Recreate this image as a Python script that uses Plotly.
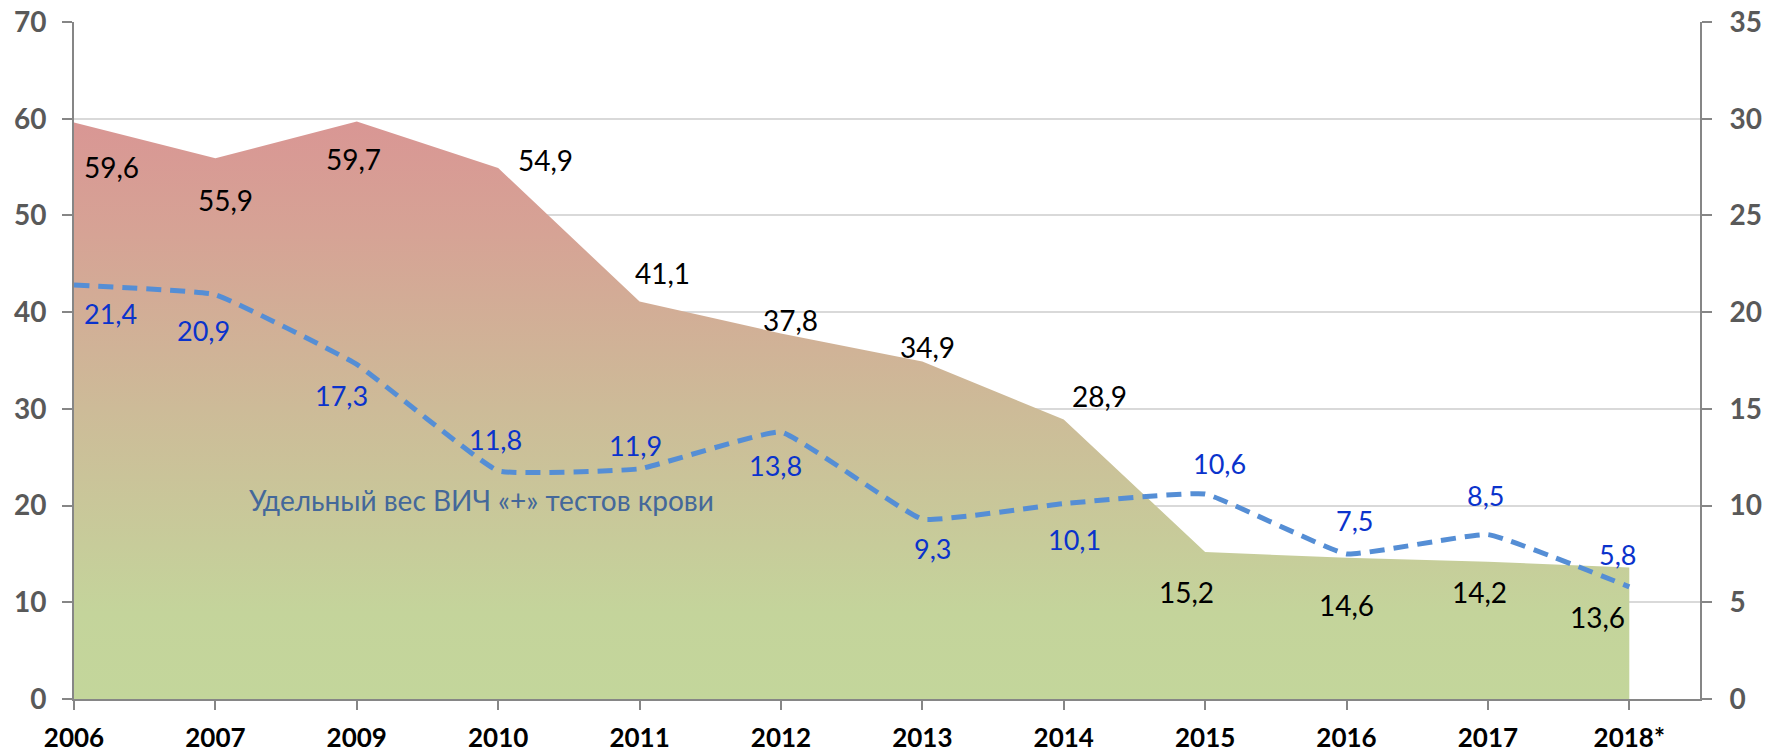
import plotly.graph_objects as go

# ---- data ----
categories = ["2006", "2007", "2009", "2010", "2011", "2012", "2013", "2014", "2015", "2016", "2017", "2018*"]
hiv_share_area = [59.6, 55.9, 59.7, 54.9, 41.1, 37.8, 34.9, 28.9, 15.2, 14.6, 14.2, 13.6]
hiv_positive_tests = [21.4, 20.9, 17.3, 11.8, 11.9, 13.8, 9.3, 10.1, 10.6, 7.5, 8.5, 5.8]
series_label = "Удельный вес ВИЧ «+» тестов крови"

def fmt(v):
    return f"{v:.1f}".replace(".", ",")

idx = list(range(len(categories)))

# label pixel offsets (dx right, dy down) – placement only
area_off = [(37, 44), (10, 42), (-3, 37), (47, -8), (23, -29), (10, -13), (5, -14),
            (36, -24), (-19, 40), (0, 47), (-8, 30), (-32, 50)]
line_off = [(36, 28), (-12, 36), (-15, 31), (-3, -31), (-4, -23), (-5, 33), (10, 29),
            (11, 36), (14, -30), (8, -33), (-2, -39), (-12, -32)]

FONT = "Lato, 'Open Sans', sans-serif"

W, H = 1767, 752
L, R, T, B = 74, 67, 22, 53

fig = go.Figure()

fig.add_trace(go.Scatter(
    x=idx, y=hiv_share_area, mode="none", fill="tozeroy",
    fillgradient=dict(type="vertical", start=0, stop=60,
                      colorscale=[[0, "#C3D69B"], [0.15, "#C4D49B"], [0.5, "#CDBB98"],
                                  [0.8, "#D6A395"], [1, "#D99694"]]),
    hoverinfo="skip", showlegend=False))

fig.add_trace(go.Scatter(
    x=idx, y=hiv_positive_tests, yaxis="y2", mode="lines",
    line=dict(color="#558ED5", width=5, dash="15px,9px", shape="spline", smoothing=0.3),
    showlegend=False))

ann = []
for i, v in enumerate(hiv_share_area):
    dx, dy = area_off[i]
    ann.append(dict(x=i, y=v, xref="x", yref="y", text=fmt(v), showarrow=False,
                    xshift=dx, yshift=-dy, font=dict(family=FONT, size=28, color="#000000")))
for i, v in enumerate(hiv_positive_tests):
    dx, dy = line_off[i]
    ann.append(dict(x=i, y=v, xref="x", yref="y2", text=fmt(v), showarrow=False,
                    xshift=dx, yshift=-dy, font=dict(family=FONT, size=27, color="#0A33CC")))
# caption centred at pixel (481, 500) converted to paper coordinates
ann.append(dict(x=(481 - L) / (W - L - R), y=1 - (500 - T) / (H - T - B),
                xref="paper", yref="paper", xanchor="center", yanchor="middle",
                text=series_label, showarrow=False,
                font=dict(family=FONT, size=28, color="#44689A")))

fig.update_layout(
    width=W, height=H,
    margin=dict(l=L, r=R, t=T, b=B, autoexpand=False),
    paper_bgcolor="white", plot_bgcolor="white",
    font=dict(family=FONT),
    annotations=ann,
    xaxis=dict(range=[0, 11.5], tickvals=idx, ticktext=categories, automargin=False,
               showline=True, linecolor="#868686", linewidth=2,
               ticks="outside", ticklen=9, tickwidth=2, tickcolor="#868686",
               showgrid=False, zeroline=False, ticklabelstandoff=6,
               tickfont=dict(family=FONT, size=26, color="#000000", weight="bold")),
    yaxis=dict(range=[0, 70], dtick=10, showline=True, linecolor="#868686", linewidth=2,
               automargin=False,
               ticks="outside", ticklen=10, tickwidth=2, tickcolor="#868686",
               showgrid=True, gridcolor="#D9D9D9", gridwidth=2, zeroline=False,
               ticklabelstandoff=10,
               tickfont=dict(family=FONT, size=28, color="#595959", weight="bold")),
    yaxis2=dict(range=[0, 35], dtick=5, overlaying="y", side="right", anchor="x",
                automargin=False,
                showline=True, linecolor="#868686", linewidth=2,
                ticks="outside", ticklen=10, tickwidth=2, tickcolor="#868686",
                showgrid=False, zeroline=False, ticklabelstandoff=12,
                tickfont=dict(family=FONT, size=28, color="#595959", weight="bold")),
)

fig.write_html("out.html", config={"displayModeBar": False})

# remove the browser's default page margin so the figure sits at the window origin
with open("out.html", encoding="utf-8") as f:
    html = f.read()
html = html.replace("<head>", "<head><style>html,body{margin:0;padding:0;overflow:hidden;}</style>", 1)
with open("out.html", "w", encoding="utf-8") as f:
    f.write(html)
